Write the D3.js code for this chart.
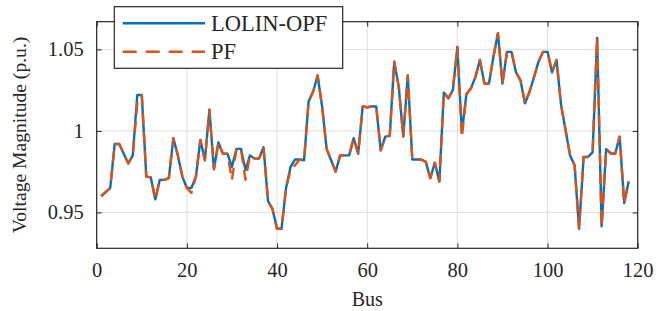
<!DOCTYPE html>
<html>
<head>
<meta charset="utf-8">
<script src="https://cdn.jsdelivr.net/npm/d3@7"></script>
<style>
  body { margin: 0; background: #fff; }
  svg { display: block; }
  text { font-family: "Liberation Serif", "Times New Roman", serif; fill: #262626; }
</style>
</head>
<body>
<div id="chart"></div>
<script>
// Voltage magnitude per bus (IEEE 118-bus)
const lolinOpf = [
  0.960, 0.9625, 0.965, 0.992, 0.992, 0.986, 0.980, 0.985, 1.022, 1.022,
  0.972, 0.9715, 0.958, 0.970, 0.970, 0.971, 0.9955, 0.985, 0.972, 0.965,
  0.965, 0.972, 0.9945, 0.982, 1.013, 0.9765, 0.993, 0.986, 0.986, 0.978,
  0.989, 0.989, 0.976, 0.985, 0.983, 0.983, 0.990, 0.957, 0.952, 0.940,
  0.940, 0.965, 0.978, 0.9825, 0.9825, 0.982, 1.018, 1.024, 1.034, 1.015,
  0.989, 0.982, 0.975, 0.985, 0.985, 0.985, 0.9955, 0.986, 1.015, 1.0145,
  1.015, 1.015, 0.988, 0.9965, 0.997, 1.0425, 1.027, 0.9965, 1.034, 0.9825,
  0.9825, 0.9825, 0.981, 0.971, 0.9805, 0.969, 1.0235, 1.020, 1.025, 1.0515,
  0.999, 1.0225, 1.026, 1.033, 1.0435, 1.029, 1.029, 1.0455, 1.060, 1.029,
  1.0485, 1.0485, 1.036, 1.031, 1.017, 1.024, 1.033, 1.0425, 1.0485, 1.0485,
  1.036, 1.0435, 1.016, 1.0006, 0.985, 0.979, 0.940, 0.984, 0.984, 0.987,
  1.057, 0.9415, 0.9888, 0.9863, 0.986, 0.9965, 0.9557, 0.969
];
const pf = [
  0.960, 0.9625, 0.965, 0.992, 0.992, 0.986, 0.980, 0.985, 1.017, 1.022,
  0.972, 0.9715, 0.958, 0.970, 0.970, 0.971, 0.9955, 0.985, 0.972, 0.965,
  0.962, 0.972, 0.9945, 0.982, 1.013, 0.9765, 0.993, 0.986, 0.986, 0.970,
  0.989, 0.989, 0.970, 0.985, 0.983, 0.983, 0.990, 0.957, 0.952, 0.940,
  0.940, 0.965, 0.976, 0.979, 0.9825, 0.982, 1.018, 1.024, 1.034, 1.015,
  0.989, 0.982, 0.975, 0.985, 0.985, 0.985, 0.9955, 0.986, 1.015, 1.0145,
  1.015, 1.015, 0.988, 0.9965, 0.997, 1.0425, 1.027, 0.9965, 1.034, 0.9825,
  0.9825, 0.9825, 0.981, 0.971, 0.9805, 0.969, 1.0235, 1.020, 1.025, 1.0515,
  0.996, 1.0225, 1.026, 1.033, 1.0435, 1.029, 1.029, 1.0455, 1.060, 1.029,
  1.0485, 1.0485, 1.036, 1.031, 1.017, 1.024, 1.033, 1.0425, 1.0485, 1.0485,
  1.036, 1.0435, 1.016, 1.0006, 0.985, 0.979, 0.940, 0.984, 0.984, 0.987,
  1.057, 0.9415, 0.9888, 0.9863, 0.986, 0.9965, 0.9557, 0.969
];
const buses = d3.range(1, lolinOpf.length + 1);
const xTicks = [0, 20, 40, 60, 80, 100, 120];
const yTicks = [0.95, 1, 1.05];
const seriesNames = ["LOLIN-OPF", "PF"];

const width = 665, height = 311;
const margin = { left: 96.7, right: 27.3, top: 21.7, bottom: 62.7 };
const innerW = width - margin.left - margin.right;
const innerH = height - margin.top - margin.bottom;

const svg = d3.select("#chart").append("svg")
  .attr("width", width)
  .attr("height", height);

const x = d3.scaleLinear().domain([0, 120]).range([margin.left, margin.left + innerW]);
const y = d3.scaleLinear().domain([0.928, 1.067]).range([margin.top + innerH, margin.top]);

// grid
const grid = svg.append("g").attr("stroke", "#dedede").attr("stroke-width", 1);
grid.selectAll(".gx").data(xTicks).join("line")
  .attr("x1", d => x(d)).attr("x2", d => x(d))
  .attr("y1", margin.top).attr("y2", margin.top + innerH);
grid.selectAll(".gy").data(yTicks).join("line")
  .attr("x1", margin.left).attr("x2", margin.left + innerW)
  .attr("y1", d => y(d)).attr("y2", d => y(d));

// lines
const line = d3.line().x((d, i) => x(buses[i])).y(d => y(d));
svg.append("path").datum(lolinOpf)
  .attr("fill", "none").attr("stroke", "#0072BD").attr("stroke-width", 2.4)
  .attr("stroke-linejoin", "round")
  .attr("d", line);
svg.append("path").datum(pf)
  .attr("fill", "none").attr("stroke", "#D95319").attr("stroke-width", 2.4)
  .attr("stroke-dasharray", "12,7")
  .attr("stroke-linejoin", "round")
  .attr("d", line);

// axes (box with inward ticks)
const tickLen = 5;
const axisColor = "#262626";
svg.append("g").attr("transform", `translate(0,${margin.top + innerH})`)
  .call(d3.axisBottom(x).tickValues(xTicks).tickSizeInner(-tickLen).tickSizeOuter(0).tickPadding(14))
  .call(g => g.select(".domain").remove());
svg.append("g").attr("transform", `translate(0,${margin.top})`)
  .call(d3.axisTop(x).tickValues(xTicks).tickSizeInner(-tickLen).tickSizeOuter(0).tickFormat(""))
  .call(g => g.select(".domain").remove());
svg.append("g").attr("transform", `translate(${margin.left},0)`)
  .call(d3.axisLeft(y).tickValues(yTicks).tickSizeInner(-tickLen).tickSizeOuter(0).tickPadding(13).tickFormat(d3.format("")))
  .call(g => g.select(".domain").remove());
svg.append("g").attr("transform", `translate(${margin.left + innerW},0)`)
  .call(d3.axisRight(y).tickValues(yTicks).tickSizeInner(-tickLen).tickSizeOuter(0).tickFormat(""))
  .call(g => g.select(".domain").remove());

svg.selectAll(".tick line").attr("stroke", axisColor);
svg.selectAll(".tick text")
  .attr("font-family", "Liberation Serif, serif")
  .attr("font-size", 20.5)
  .attr("fill", axisColor);

svg.append("rect")
  .attr("x", margin.left).attr("y", margin.top)
  .attr("width", innerW).attr("height", innerH)
  .attr("fill", "none").attr("stroke", axisColor).attr("stroke-width", 1.2);

// axis labels
svg.append("text")
  .attr("x", x(60)).attr("y", 306)
  .attr("text-anchor", "middle").attr("font-size", 20)
  .text("Bus");
svg.append("text")
  .attr("transform", `translate(26,${margin.top + innerH / 2}) rotate(-90)`)
  .attr("text-anchor", "middle").attr("font-size", 19.6)
  .text("Voltage Magnitude (p.u.)");

// legend
const legend = svg.append("g");
legend.append("rect")
  .attr("x", 114.3).attr("y", 6.7).attr("width", 228.4).attr("height", 61.6)
  .attr("fill", "#fff").attr("stroke", axisColor).attr("stroke-width", 1.2);
const legColors = ["#0072BD", "#D95319"];
const legDash = [null, "14,9"];
seriesNames.forEach((name, i) => {
  const ly = 23.3 + i * 28.4;
  legend.append("line")
    .attr("x1", 122.7).attr("x2", 205).attr("y1", ly).attr("y2", ly)
    .attr("stroke", legColors[i]).attr("stroke-width", 2.4)
    .attr("stroke-dasharray", legDash[i]);
  legend.append("text")
    .attr("x", 211).attr("y", ly + 7.5)
    .attr("font-size", 22.5)
    .text(name);
});
</script>
</body>
</html>
